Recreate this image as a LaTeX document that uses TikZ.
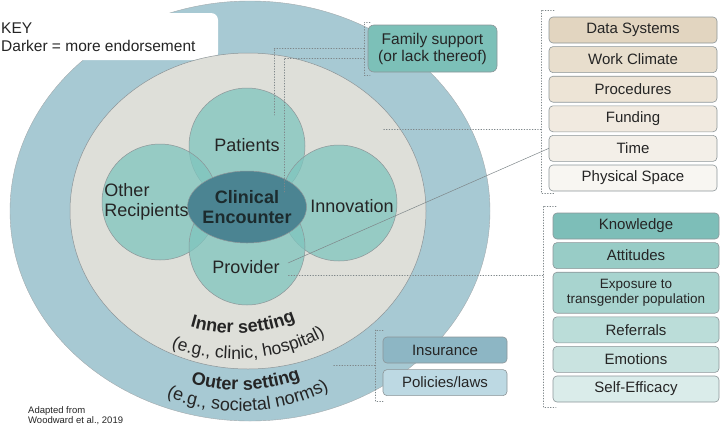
\documentclass[tikz,border=0pt]{standalone}
\usepackage{fontspec}
\setmainfont{Liberation Sans}
\usepackage{xcolor}
\usepackage{tikz}
\usetikzlibrary{positioning,shapes.geometric,decorations.text}
\definecolor{cfInk}{HTML}{252525}
\definecolor{cfEdge}{HTML}{8C9598}
\definecolor{cfDots}{HTML}{7E8689}
\definecolor{cfOuter}{HTML}{A7C9D3}
\definecolor{cfInner}{HTML}{DEDFD9}
\definecolor{cfTeal}{HTML}{7FC5BE}
\definecolor{cfCore}{HTML}{4B8492}
\definecolor{cfCoreInk}{HTML}{1C2B2E}
\definecolor{cfFamily}{HTML}{7CC0B8}
\definecolor{cfSysA}{HTML}{E2D5C0}
\definecolor{cfSysB}{HTML}{E8DECD}
\definecolor{cfSysC}{HTML}{EDE4D6}
\definecolor{cfSysD}{HTML}{F1EAE0}
\definecolor{cfSysE}{HTML}{F3EFE8}
\definecolor{cfSysF}{HTML}{F8F6F2}
\definecolor{cfIndA}{HTML}{7DBEB8}
\definecolor{cfIndB}{HTML}{98CCC6}
\definecolor{cfIndC}{HTML}{A8D4CF}
\definecolor{cfIndD}{HTML}{BBDDD9}
\definecolor{cfIndE}{HTML}{C9E3E0}
\definecolor{cfIndF}{HTML}{DAECEA}
\definecolor{cfIns}{HTML}{8DB6C4}
\definecolor{cfLaw}{HTML}{BDD9E3}
\newcommand\cfBig{\fontsize{18}{20}\selectfont}
\newcommand\cfBold{\fontsize{18}{20}\selectfont\bfseries}
\newcommand\cfArc{\fontsize{17.5}{20}\selectfont}
\newcommand\cfSmall{\fontsize{13.5}{15.5}\selectfont}
\newcommand\cfTiny{\fontsize{9.5}{11}\selectfont}
\tikzset{
  cf diagram/.style={x=1pt, y=-1pt, text=cfInk,
    font=\fontsize{15}{17}\selectfont, line cap=round, line join=round},
  cf box/.style={draw=cfEdge, line width=0.6pt, rounded corners=4pt,
    minimum width=168pt, minimum height=26pt, inner sep=0pt, align=center},
  cf circle/.style={circle, draw=cfEdge, line width=0.5pt, fill=cfTeal,
    fill opacity=0.75, minimum size=116pt, inner sep=0pt},
  cf label/.style={font=\cfBig, inner sep=0pt},
  cf dots/.style={draw=cfDots, line width=0.7pt, dotted},
  cf link/.style={draw=cfDots, line width=0.5pt},
  cf curved/.style={decorate, decoration={text along path,
    text align=center, text color=cfInk, text={#1}}}
}
\begin{document}
\begin{tikzpicture}[cf diagram]
\useasboundingbox (0,0) rectangle (720,426);
% settings
\filldraw[fill=cfOuter, draw=cfEdge!80, line width=0.4pt] (250,211) ellipse [x radius=240, y radius=210];
\node[fill=white, rounded corners=7pt, minimum width=224pt, minimum height=47pt, inner sep=0pt] (keybox) at (106,36.5) {};
\node[anchor=base west, inner sep=0pt, font=\fontsize{15.5}{18}\selectfont] (keytitle) at (1,33) {KEY};
\node[anchor=base west, inner sep=0pt, font=\fontsize{15.5}{18}\selectfont] (keynote) at (1,51) {Darker = more endorsement};
\filldraw[fill=cfInner, draw=cfEdge, line width=0.5pt] (248,211) ellipse [x radius=178, y radius=158];

% encounter
\node[cf circle] (patients) at (247,146) {};
\node[cf circle] (innovation) at (339,203) {};
\node[cf circle] (others) at (160,202) {};
\node[cf circle] (provider) at (247,247) {};
\node[ellipse, fill=cfCore, draw=cfEdge, line width=0.5pt, minimum width=119pt, minimum height=72pt, inner sep=0pt] (encounter) at (247,207) {};
\node[cf label] (patientsText) at (247,145) {Patients};
\node[cf label] (innovationText) at (352,206) {Innovation};
\node[cf label, align=left] (othersText) at (146.5,201.5) {Other\\Recipients};
\node[cf label] (providerText) at (246,267) {Provider};
\node[cf label, font=\cfBold, align=center, text=cfCoreInk] (encounterText) at (247,207) {Clinical\\Encounter};

% curved setting names
\path[cf curved={|\cfBold|Inner setting}] (235,172) ++(124:161) arc[start angle=124, end angle=50, radius=161];
\path[cf curved={|\cfArc|(e.g., clinic, hospital)}] (235,172) ++(128:187) arc[start angle=128, end angle=43, radius=187];
\path[cf curved={|\cfBold|Outer setting}] (240,215) ++(126:175) arc[start angle=126, end angle=50, radius=175];
\path[cf curved={|\cfBig|(e.g., societal norms)}] (240,215) ++(127:196) arc[start angle=127, end angle=48, radius=196];

% factor boxes
\node[cf box, fill=cfFamily, minimum width=129pt, minimum height=47pt, rounded corners=6pt, font=\fontsize{15.5}{17}\selectfont] (family) at (432.5,48.5) {Family support\\(or lack thereof)};

\node[cf box, fill=cfSysA] (datasys) at (633,30) {Data Systems};
\node[cf box, fill=cfSysB, below=3pt of datasys] (climate) {Work Climate};
\node[cf box, fill=cfSysC, below=3pt of climate] (procedures) {Procedures};
\node[cf box, fill=cfSysD, below=3pt of procedures] (funding) {Funding};
\node[cf box, fill=cfSysE, below=3pt of funding] (time) {Time};
\node[cf box, fill=cfSysF, below=3pt of time] (space) {Physical Space};

\node[cf box, minimum width=166pt, fill=cfIndA] (knowledge) at (636,226) {Knowledge};
\node[cf box, minimum width=166pt, fill=cfIndB, below=3pt of knowledge] (attitudes) {Attitudes};
\node[cf box, minimum width=166pt, minimum height=41pt, fill=cfIndC, below=3pt of attitudes, font=\cfSmall] (exposure) {Exposure to\\transgender population};
\node[cf box, minimum width=166pt, fill=cfIndD, below=3pt of exposure] (referrals) {Referrals};
\node[cf box, minimum width=166pt, fill=cfIndE, below=3pt of referrals] (emotions) {Emotions};
\node[cf box, minimum width=166pt, fill=cfIndF, below=3pt of emotions] (efficacy) {Self-Efficacy};

\node[cf box, minimum width=124pt, fill=cfIns] (insurance) at (445,350) {Insurance};
\node[cf box, minimum width=124pt, fill=cfLaw, below=6pt of insurance] (policies) {Policies/laws};

\node[anchor=base west, inner sep=0pt, font=\cfTiny] (source) at (28,413) {Adapted from};
\node[anchor=base west, inner sep=0pt, font=\cfTiny] (sourceRef) at (28,423.5) {Woodward et al., 2019};

% brackets and leaders
\coordinate (famTop) at (364,22);
\coordinate (famBot) at (364,75);
\draw[cf dots] ([xshift=6pt]famTop) -- (famTop) -- (famBot) -- ([xshift=6pt]famBot);
\coordinate (famTapA) at (364,48);
\coordinate (famEndA) at (274,115);
\draw[cf dots] (famTapA) -| (famEndA);
\coordinate (famTapB) at (364,58);
\coordinate (famEndB) at (284,192);
\draw[cf dots] (famTapB) -| (famEndB);

\coordinate (orgTop) at (541,10);
\coordinate (orgBot) at (541,193);
\draw[cf dots] ([xshift=13pt]orgTop) -- (orgTop) -- (orgBot) -- ([xshift=13pt]orgBot);
\coordinate (orgTap) at (541,129);
\coordinate (orgEnd) at (383,129);
\draw[cf dots] (orgTap) -- (orgEnd);

\coordinate (indTop) at (543,206);
\coordinate (indBot) at (543,407);
\draw[cf dots] ([xshift=13pt]indTop) -- (indTop) -- (indBot) -- ([xshift=13pt]indBot);
\coordinate (indTap) at (543,275);
\coordinate (indEnd) at (287,275);
\draw[cf dots] (indTap) -- (indEnd);

\coordinate (outTop) at (375,330);
\coordinate (outBot) at (375,401);
\draw[cf dots] ([xshift=8pt]outTop) -- (outTop) -- (outBot) -- ([xshift=8pt]outBot);
\coordinate (outTap) at (375,365);
\coordinate (outEnd) at (333,365);
\draw[cf dots] (outTap) -- (outEnd);

\coordinate (timeEnd) at (288,263);
\draw[cf link] (time.west) -- (timeEnd);
\end{tikzpicture}
\end{document}
